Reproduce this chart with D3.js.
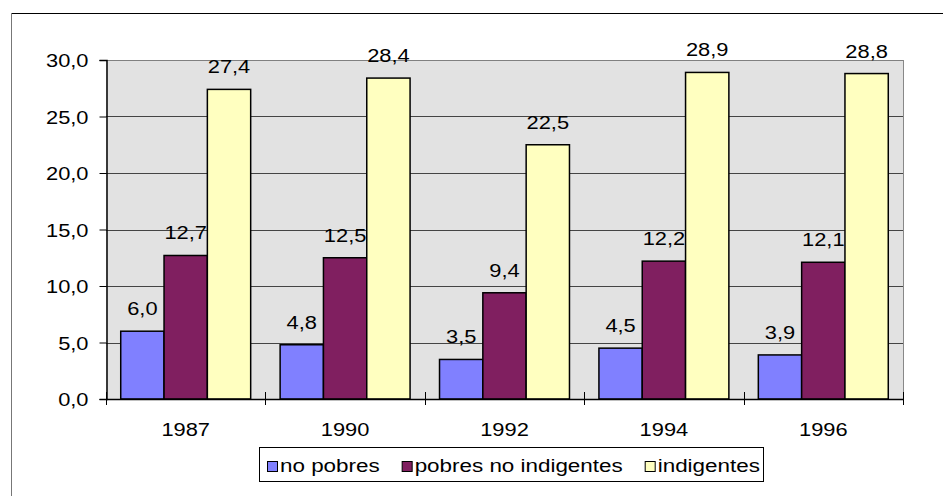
<!DOCTYPE html>
<html><head><meta charset="utf-8">
<script src="https://cdn.jsdelivr.net/npm/d3@7"></script>
<style>body{margin:0;background:#fff}svg{display:block}text{font-family:"Liberation Sans",Arial,sans-serif;fill:#000}</style>
</head><body>
<svg id="c" width="943" height="496"></svg>
<script>
const categories = ["1987","1990","1992","1994","1996"];
const seriesNames = ["no pobres","pobres no indigentes","indigentes"];
const noPobres = [6.0,4.8,3.5,4.5,3.9];
const pobresNoIndigentes = [12.7,12.5,9.4,12.2,12.1];
const indigentes = [27.4,28.4,22.5,28.9,28.8];
const yTicks = [0,5,10,15,20,25,30];
const colors = ["#8080ff","#801f60","#ffffc0"];

const values = [noPobres, pobresNoIndigentes, indigentes];
const svg = d3.select("#c");
const L=106, R=903, T=60, B=399;
const FS = 19, SX = 1.15, LSX = 1.18;
const fmt = v => d3.format(".1f")(v).replace(".", ",");

// outer border
svg.append("line").attr("x1",11.5).attr("x2",943).attr("y1",13.5).attr("y2",13.5).attr("stroke","#000");
svg.append("line").attr("x1",11.5).attr("x2",11.5).attr("y1",13.5).attr("y2",496).attr("stroke","#777");

const y = d3.scaleLinear().domain([0,30]).range([B,T]);
const x0 = d3.scaleBand().domain(categories).range([L,R]).paddingInner(0).paddingOuter(0);
const x1 = d3.scaleBand().domain(seriesNames).range([0,x0.bandwidth()]).paddingInner(0).paddingOuter(0.34);

// plot background
svg.append("rect").attr("x",L).attr("y",T).attr("width",R-L).attr("height",B-T).attr("fill","#e2e2e2");
svg.append("line").attr("x1",R+0.5).attr("x2",R+0.5).attr("y1",T).attr("y2",B).attr("stroke","#888");

// gridlines
svg.append("g").selectAll("line").data(yTicks.filter(d=>d>0)).join("line")
  .attr("x1",L).attr("x2",R).attr("y1",d=>Math.round(y(d))+0.5).attr("y2",d=>Math.round(y(d))+0.5)
  .attr("stroke",d=>d===30?"#808080":"#444");

// bars
const groups = svg.append("g").selectAll("g").data(seriesNames).join("g");
groups.each(function(s,si){
  d3.select(this).selectAll("rect").data(categories).join("rect")
    .attr("x",c=>x0(c)+x1(s))
    .attr("y",(c,i)=>y(values[si][i]))
    .attr("width",x1.bandwidth())
    .attr("height",(c,i)=>B-y(values[si][i]))
    .attr("fill",colors[si]).attr("stroke","#000").attr("stroke-width",1.5);
  d3.select(this).selectAll("text").data(categories).join("text")
    .attr("transform",(c,i)=>`translate(${x0(c)+x1(s)+x1.bandwidth()/2},${y(values[si][i])-16}) scale(${SX},1)`)
    .attr("text-anchor","middle").attr("font-size",FS)
    .text((c,i)=>fmt(values[si][i]));
});

// y axis
const yAxis = d3.axisLeft(y).tickValues(yTicks).tickSize(7).tickPadding(11).tickFormat(fmt);
const ga = svg.append("g").attr("transform",`translate(${L+0.5},0)`).call(yAxis);
ga.select(".domain").attr("stroke","#000").attr("stroke-width",1.5);
ga.selectAll(".tick line").attr("stroke","#000");
ga.selectAll(".tick text").attr("font-size",FS).attr("font-family","Liberation Sans, Arial, sans-serif")
  .attr("fill","#000").attr("dy","0.35em").attr("transform",`scale(${SX},1)`)
  .attr("x",function(){return -18/SX;});

// x axis
svg.append("line").attr("x1",L).attr("x2",R+0.5).attr("y1",B+0.5).attr("y2",B+0.5).attr("stroke","#000").attr("stroke-width",1.5);
const bounds = categories.map(c=>x0(c)).concat([R]);
svg.append("g").selectAll("line").data(bounds).join("line")
  .attr("x1",d=>Math.round(d)+0.5).attr("x2",d=>Math.round(d)+0.5)
  .attr("y1",B-7).attr("y2",B+6).attr("stroke","#000");
svg.append("g").selectAll("text").data(categories).join("text")
  .attr("transform",c=>`translate(${x0(c)+x0.bandwidth()/2},436) scale(${SX},1)`)
  .attr("text-anchor","middle").attr("font-size",FS).text(c=>c);

// legend
const lg = svg.append("g");
lg.append("rect").attr("x",259.5).attr("y",447.5).attr("width",504).attr("height",34)
  .attr("fill","#fff").attr("stroke","#000");
let lx = 267;
seriesNames.forEach((s,i)=>{
  lg.append("rect").attr("x",lx+0.5).attr("y",461.5).attr("width",10).attr("height",10)
    .attr("fill",colors[i]).attr("stroke","#000");
  const t = lg.append("text").attr("transform",`translate(${lx+13},472) scale(${LSX},1)`)
    .attr("font-size",FS).text(s);
  const w = t.node().getComputedTextLength()*LSX;
  lx += 13 + w + 22;
});
</script>
</body></html>
